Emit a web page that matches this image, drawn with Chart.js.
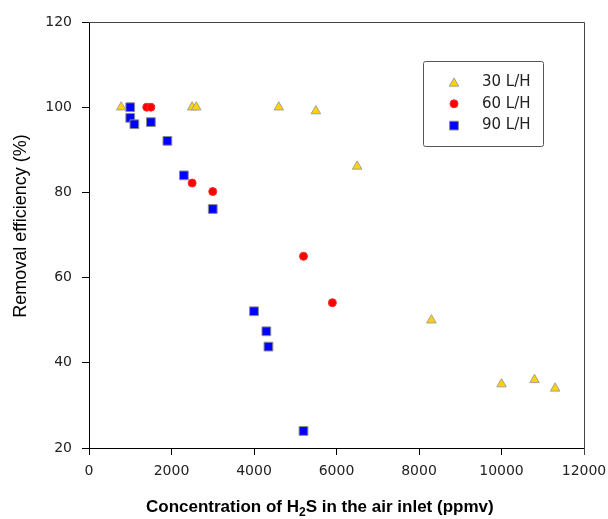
<!DOCTYPE html>
<html>
<head>
<meta charset="utf-8">
<script src="https://cdn.jsdelivr.net/npm/chart.js@4"></script>
<style>
  html, body { margin: 0; padding: 0; background: #fff; }
  #wrap { width: 608px; height: 519px; }
</style>
</head>
<body>
<div id="wrap"><canvas id="chart"></canvas></div>
<script>
const SERIES = ["30 L/H", "60 L/H", "90 L/H"];

// 30 L/H
const x30 = [780, 2500, 2600, 4600, 5500, 6500, 8300, 10000, 10800, 11300];
const y30 = [100, 100, 100, 100, 99.1, 86.1, 50, 35, 36, 34];
// 60 L/H
const x60 = [1400, 1500, 2500, 3000, 5200, 5900];
const y60 = [100, 100, 82.2, 80.2, 65, 54.1];
// 90 L/H
const x90 = [1000, 1000, 1100, 1500, 1900, 2300, 3000, 4000, 4300, 4350, 5200];
const y90 = [100, 97.5, 96, 96.5, 92.1, 84, 76.1, 52.1, 47.4, 43.8, 24];

const X_TICKS = [0, 2000, 4000, 6000, 8000, 10000, 12000];
const Y_TICKS = [20, 40, 60, 80, 100, 120];

const X_TITLE = ["Concentration of H", "2", "S in the air inlet (ppmv)"];
const Y_TITLE = "Removal efficiency (%)";

const TICK_FONT = { family: "'DejaVu Sans'", size: 14 };

function pts(xs, ys) {
  return xs.map((x, i) => ({ x: x, y: ys[i] }));
}

const STYLES = [
  { pointStyle: "triangle", radius: 5.5, bg: "#ffd200", border: "#a0a0a0", bw: 1 },
  { pointStyle: "circle",   radius: 4,   bg: "#ff0000", border: "#ff2a2a", bw: 1 },
  { pointStyle: "rect",     radius: 6.2, bg: "#0000ff", border: "#8c8c8c", bw: 1 },
];

function dataset(label, data, st) {
  return {
    label: label,
    data: data,
    pointStyle: st.pointStyle,
    pointRadius: st.radius,
    pointHoverRadius: st.radius,
    backgroundColor: st.bg,
    borderColor: st.border,
    borderWidth: st.bw,
    showLine: false,
  };
}

// frame, legend box and axis titles
const decorations = {
  id: "decorations",
  afterDraw(chart) {
    const { ctx, chartArea: a } = chart;
    ctx.save();

    ctx.strokeStyle = "#444";
    ctx.lineWidth = 1;
    ctx.beginPath();
    ctx.moveTo(a.left, Math.round(a.top) + 0.5);
    ctx.lineTo(Math.round(a.right) + 0.5, Math.round(a.top) + 0.5);
    ctx.lineTo(Math.round(a.right) + 0.5, a.bottom + 7);
    ctx.stroke();

    // legend
    ctx.strokeStyle = "#555";
    ctx.beginPath();
    ctx.roundRect(423.5, 61.5, 120, 85, 2);
    ctx.stroke();
    ctx.font = "15px 'DejaVu Sans'";
    ctx.textBaseline = "middle";
    ctx.textAlign = "left";
    SERIES.forEach((name, i) => {
      const st = STYLES[i];
      const y = 82 + i * 21.8;
      ctx.fillStyle = st.bg;
      ctx.strokeStyle = st.border;
      ctx.lineWidth = st.bw;
      Chart.helpers.drawPoint(ctx, {
        pointStyle: st.pointStyle, radius: st.radius, rotation: 0, borderWidth: st.bw,
      }, 454, st.pointStyle === "triangle" ? y + 1.4 : y);
      ctx.fillStyle = "#222";
      ctx.fillText(name, 482, y);
    });

    // x title with subscript
    ctx.fillStyle = "#000";
    ctx.textBaseline = "alphabetic";
    const big = "bold 17px 'Liberation Sans'";
    const small = "bold 12px 'Liberation Sans'";
    ctx.font = big;
    const w0 = ctx.measureText(X_TITLE[0]).width;
    ctx.font = small;
    const w1 = ctx.measureText(X_TITLE[1]).width;
    const x = 146;
    const base = 512;
    ctx.font = big;
    ctx.fillText(X_TITLE[0], x, base);
    ctx.font = small;
    ctx.fillText(X_TITLE[1], x + w0, base + 4);
    ctx.font = big;
    ctx.fillText(X_TITLE[2], x + w0 + w1, base);

    // y title
    ctx.translate(21, 226);
    ctx.rotate(-Math.PI / 2);
    ctx.font = "18px 'Liberation Sans'";
    ctx.textAlign = "center";
    ctx.textBaseline = "middle";
    ctx.fillText(Y_TITLE, 0, 0);

    ctx.restore();
  },
};

new Chart(document.getElementById("chart"), {
  type: "scatter",
  data: {
    datasets: [
      dataset(SERIES[0], pts(x30, y30), STYLES[0]),
      dataset(SERIES[1], pts(x60, y60), STYLES[1]),
      dataset(SERIES[2], pts(x90, y90), STYLES[2]),
    ],
  },
  options: {
    responsive: true,
    maintainAspectRatio: false,
    animation: false,
    layout: { padding: { top: 22, right: 24, left: 0, bottom: 0 } },
    plugins: {
      legend: { display: false },
      tooltip: { enabled: false },
    },
    scales: {
      x: {
        type: "linear",
        min: 0,
        max: 12000,
        afterBuildTicks: (s) => { s.ticks = X_TICKS.map(v => ({ value: v })); },
        afterFit: (s) => { s.height = 71; s.paddingLeft = 0; s.paddingRight = 0; },
        ticks: {
          color: "#222", font: TICK_FONT, padding: 8, maxRotation: 0, autoSkip: false,
          callback: (v) => String(v),
        },
        grid: { drawOnChartArea: false, drawTicks: true, tickLength: 7, color: "#000" },
        border: { display: true, color: "#000", width: 1 },
      },
      y: {
        type: "linear",
        min: 20,
        max: 120,
        afterBuildTicks: (s) => { s.ticks = Y_TICKS.map(v => ({ value: v })); },
        afterFit: (s) => { s.width = 89; s.paddingTop = 0; s.paddingBottom = 0; },
        ticks: {
          color: "#222", font: TICK_FONT, padding: 10, autoSkip: false,
          callback: (v) => String(v),
        },
        grid: { drawOnChartArea: false, drawTicks: true, tickLength: 7, color: "#000" },
        border: { display: true, color: "#000", width: 1 },
      },
    },
  },
  plugins: [decorations],
});
</script>
</body>
</html>
